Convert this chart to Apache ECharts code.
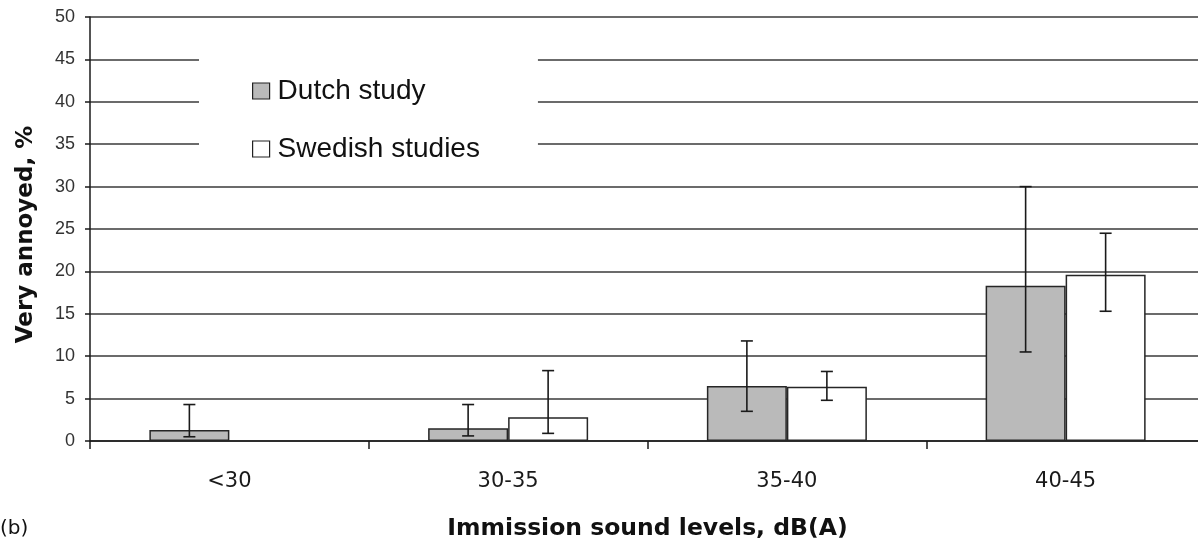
<!DOCTYPE html>
<html>
<head>
<meta charset="utf-8">
<script src="https://cdn.jsdelivr.net/npm/echarts@6/dist/echarts.min.js"></script>
<style>
html,body{margin:0;padding:0;background:#fff;overflow:hidden;}
#chart{width:1205px;height:546px;}
</style>
</head>
<body>
<div id="chart"></div>
<script>
const categories = ['<30', '30-35', '35-40', '40-45'];
const dutch = [1.3, 1.5, 6.5, 18.3];
const swedish = [null, 2.8, 6.4, 19.6];
const dutchLow = [0.5, 0.6, 3.5, 10.5];
const dutchHigh = [4.3, 4.3, 11.8, 30.0];
const swedishLow = [null, 0.9, 4.8, 15.3];
const swedishHigh = [null, 8.3, 8.2, 24.5];
const yTicks = [0, 5, 10, 15, 20, 25, 30, 35, 40, 45, 50];

const BAR_FRAC = 0.287;

function errData(low, high) {
  const out = [];
  for (let i = 0; i < categories.length; i++) {
    if (low[i] != null && high[i] != null) out.push([i, low[i], high[i]]);
  }
  return out;
}

function errRender(side) {
  return function (params, api) {
    const i = api.value(0);
    const lo = api.coord([i, api.value(1)]);
    const hi = api.coord([i, api.value(2)]);
    const band = api.size([1, 0])[0];
    const x = lo[0] + side * band * BAR_FRAC / 2;
    const cap = 6;
    const st = { stroke: '#1a1a1a', lineWidth: 1.6 };
    return {
      type: 'group',
      children: [
        { type: 'line', shape: { x1: x, y1: lo[1], x2: x, y2: hi[1] }, style: st },
        { type: 'line', shape: { x1: x - cap, y1: lo[1], x2: x + cap, y2: lo[1] }, style: st },
        { type: 'line', shape: { x1: x - cap, y1: hi[1], x2: x + cap, y2: hi[1] }, style: st }
      ]
    };
  };
}

const chart = echarts.init(document.getElementById('chart'));
chart.setOption({
  animation: false,
  backgroundColor: '#fff',
  grid: { left: 90, right: 0, top: 17, bottom: 105, containLabel: false },
  legend: {
    orient: 'vertical',
    left: 199,
    top: 46,
    padding: [30, 58, 12, 53],
    backgroundColor: '#fff',
    itemWidth: 17,
    itemHeight: 16,
    itemGap: 28,
    icon: 'rect',
    itemStyle: { borderColor: '#222', borderWidth: 1.2 },
    textStyle: { fontFamily: 'Liberation Sans', fontSize: 28, color: '#111', lineHeight: 30, padding: [0, 0, 0, 3] },
    data: ['Dutch study', 'Swedish studies']
  },
  xAxis: {
    type: 'category',
    data: categories,
    axisLine: { lineStyle: { color: '#1a1a1a', width: 1.5 } },
    axisTick: { show: true, length: 8, lineStyle: { color: '#1a1a1a', width: 1.5 } },
    axisLabel: { fontFamily: 'DejaVu Sans', fontSize: 21, color: '#1a1a1a', margin: 30 },
    name: 'Immission sound levels, dB(A)',
    nameLocation: 'middle',
    nameGap: 76,
    nameTextStyle: { fontFamily: 'DejaVu Sans', fontWeight: 'bold', fontSize: 23.5, color: '#111' }
  },
  yAxis: {
    type: 'value',
    min: 0,
    max: 50,
    interval: 5,
    axisLine: { show: true, lineStyle: { color: '#1a1a1a', width: 1.5 } },
    axisTick: { show: true, length: 5, lineStyle: { color: '#1a1a1a', width: 1.5 } },
    axisLabel: { fontFamily: 'Liberation Sans', fontSize: 18, color: '#333', margin: 15,
      formatter: function (v) { return yTicks.indexOf(v) >= 0 ? String(v) : ''; } },
    splitLine: { show: true, lineStyle: { color: '#3a3a3a', width: 1.5 } },
    name: 'Very annoyed, %',
    nameLocation: 'middle',
    nameGap: 52,
    nameTextStyle: { fontFamily: 'DejaVu Sans', fontWeight: 'bold', fontSize: 23, color: '#111', padding: [0, 11, 0, 0] }
  },
  series: [
    {
      name: 'Dutch study',
      type: 'bar',
      data: dutch,
      barWidth: (BAR_FRAC * 100) + '%',
      barGap: '0%',
      itemStyle: { color: '#bababa', borderColor: '#262626', borderWidth: 1.5 },
      z: 2
    },
    {
      name: 'Swedish studies',
      type: 'bar',
      data: swedish,
      barWidth: (BAR_FRAC * 100) + '%',
      barGap: '0%',
      itemStyle: { color: '#ffffff', borderColor: '#262626', borderWidth: 1.5 },
      z: 2
    },
    {
      type: 'custom',
      data: errData(dutchLow, dutchHigh),
      renderItem: errRender(-1),
      encode: { x: 0, y: [1, 2] },
      z: 5,
      silent: true
    },
    {
      type: 'custom',
      data: errData(swedishLow, swedishHigh),
      renderItem: errRender(1),
      encode: { x: 0, y: [1, 2] },
      z: 5,
      silent: true
    }
  ],
  graphic: [
    { type: 'text', left: 0, top: 519, style: { text: '(b)', fontFamily: 'DejaVu Sans', fontSize: 20, fill: '#111' } }
  ]
});
</script>
</body>
</html>
